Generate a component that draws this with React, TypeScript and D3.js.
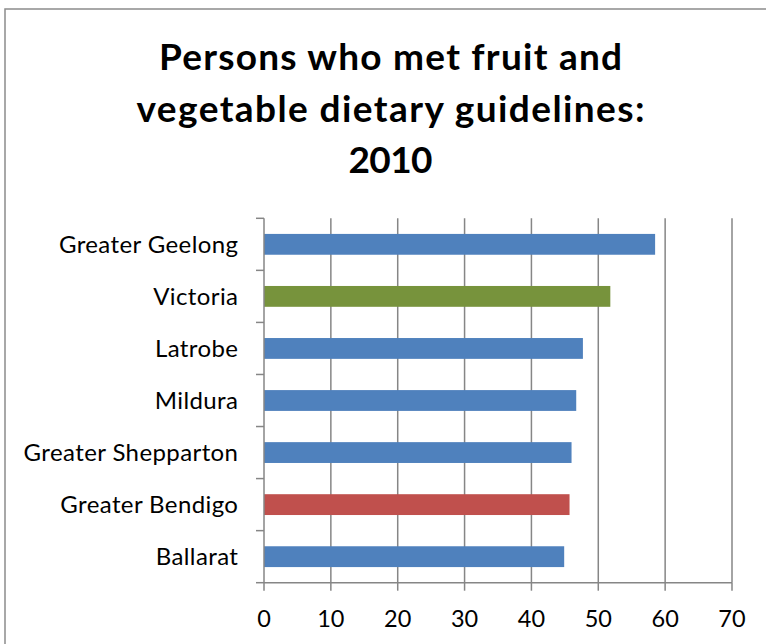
import React from "react";
import * as d3 from "d3";

const categories = [
  "Greater Geelong",
  "Victoria",
  "Latrobe",
  "Mildura",
  "Greater Shepparton",
  "Greater Bendigo",
  "Ballarat",
];
const values = [58.5, 51.8, 47.7, 46.7, 46.0, 45.7, 44.9];
const barColors = ["#4F81BD", "#77933C", "#4F81BD", "#4F81BD", "#4F81BD", "#C0504D", "#4F81BD"];
const xTicks = [0, 10, 20, 30, 40, 50, 60, 70];
const titleLines = ["Persons who met fruit and", "vegetable dietary guidelines:", "2010"];
const titleWidths = [463, 508, 84];

const W = 766;
const H = 644;
const FONT = "Lato, 'Open Sans', sans-serif";

export default function App() {
  const left = 264;
  const right = 732;
  const top = 218.3;
  const bottom = 582.7;
  const x = d3.scaleLinear().domain([0, 70]).range([left, right]);
  const y = d3
    .scaleBand<string>()
    .domain(categories)
    .range([top, bottom])
    .paddingInner(0.6)
    .paddingOuter(0.3);
  const step = y.step();
  const grid = "#868686";
  const boundaries = d3.range(categories.length + 1).map((i) => top + i * step);

  return (
    <svg
      width={W}
      height={H}
      style={{ position: "absolute", left: 0, top: 0, background: "#fff" }}
    >
      <rect x={5} y={9} width={W} height={H} fill="#fff" stroke="#8c8c8c" strokeWidth={1.5} />
      {titleLines.map((t, i) => (
        <text
          key={i}
          x={390.5 - titleWidths[i] / 2}
          y={70 + i * 51.5}
          textLength={titleWidths[i]}
          lengthAdjust="spacing"
          fontFamily={FONT}
          fontWeight="bold"
          fontSize={37}
          fill="#000"
        >
          {t}
        </text>
      ))}
      {xTicks.slice(1).map((t) => (
        <line key={"g" + t} x1={x(t)} x2={x(t)} y1={top} y2={bottom} stroke={grid} strokeWidth={1.5} />
      ))}
      {categories.map((c, i) => (
        <rect
          key={c}
          x={x(0)}
          y={y(c)!}
          width={x(values[i]) - x(0)}
          height={y.bandwidth()}
          fill={barColors[i]}
        />
      ))}
      {/* y axis */}
      <line x1={left} x2={left} y1={top} y2={bottom} stroke={grid} strokeWidth={1.5} />
      {boundaries.map((b, i) => (
        <line key={"yt" + i} x1={left - 8} x2={left} y1={b} y2={b} stroke={grid} strokeWidth={1.5} />
      ))}
      {/* x axis */}
      <line x1={left} x2={right} y1={bottom} y2={bottom} stroke={grid} strokeWidth={1.5} />
      {xTicks.map((t) => (
        <line key={"xt" + t} x1={x(t)} x2={x(t)} y1={bottom} y2={bottom + 8} stroke={grid} strokeWidth={1.5} />
      ))}
      {xTicks.map((t) => (
        <text
          key={"xl" + t}
          x={x(t)}
          y={627}
          textAnchor="middle"
          fontFamily={FONT}
          fontSize={23.5}
          fill="#000"
        >
          {t}
        </text>
      ))}
      {categories.map((c) => (
        <text
          key={"yl" + c}
          x={238.4}
          y={y(c)! + y.bandwidth() / 2 + 8.5}
          textAnchor="end"
          fontFamily={FONT}
          fontSize={24}
          letterSpacing={0.4}
          fill="#000"
        >
          {c}
        </text>
      ))}
    </svg>
  );
}
